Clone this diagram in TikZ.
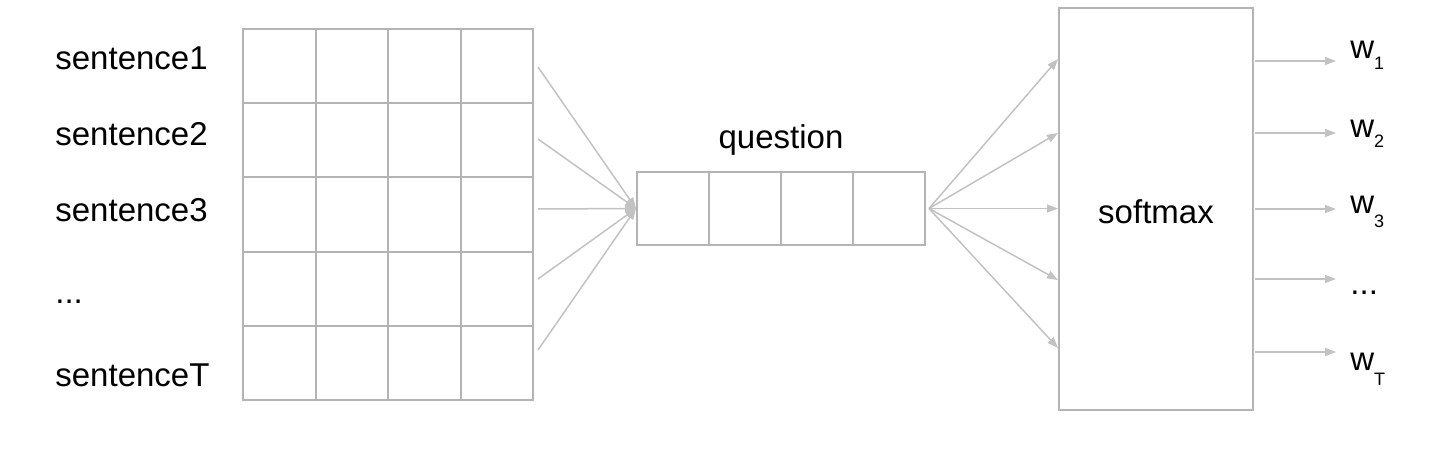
\documentclass[tikz,border=0pt]{standalone}
\usepackage{fontspec}
\setmainfont{Liberation Sans}
\usetikzlibrary{arrows.meta}
\definecolor{boxgray}{HTML}{B4B4B4}
\definecolor{arrgray}{HTML}{C2C2C2}
\begin{document}
\begin{tikzpicture}[x=0.5pt,y=-0.5pt,
  every node/.style={font=\fontsize{16.5}{20}\selectfont},
  boxshape/.style={draw=boxgray,line width=1pt,rectangle,inner sep=0pt},
  conn/.style={draw=arrgray,line width=0.75pt,-{Triangle[length=5.5pt,width=4pt]}},
  lbl/.style={anchor=base west,inner sep=0pt},
  sub/.style={}]
\useasboundingbox (0,0) rectangle (1453,450);
% sentence labels
\node[lbl] (l1) at (55,69) {sentence1};
\node[lbl] (l2) at (55,145) {sentence2};
\node[lbl] (l3) at (55,221) {sentence3};
\node[lbl] (l4) at (55,303) {...};
\node[lbl] (l5) at (55,386) {sentenceT};
% memory grid
\node[boxshape,minimum width=145pt,minimum height=185.5pt] (mem) at (388,214.5) {};
\foreach \xx in {315.5,388,460.5} \draw[boxgray,line width=1pt] (\xx,29) -- (\xx,400);
\foreach \yy in {103.2,177.4,251.6,325.8} \draw[boxgray,line width=1pt] (243,\yy) -- (533,\yy);
% question
\node[boxshape,minimum width=144pt,minimum height=36.5pt] (q) at (781,208.5) {};
\foreach \xx in {709,781,853} \draw[boxgray,line width=1pt] (\xx,172) -- (\xx,245);
\node (qlbl) at (781,140) {question};
% softmax
\node[boxshape,minimum width=97pt,minimum height=201pt] (sm) at (1156,209) {};
\node (smlbl) at (1156,212) {softmax};
% arrows into question
\foreach \i/\yy in {1/67,2/139,3/209,4/279,5/350} {
  \coordinate (s\i) at (538,\yy);
  \draw[conn] (s\i) -- (q.west);
}
% arrows question -> softmax
\coordinate (qo) at (929,208.5);
\foreach \i/\yy in {1/59,2/133,3/208.5,4/280,5/348} {
  \coordinate (t\i) at (sm.west |- 0,\yy);
  \draw[conn] (qo) -- (t\i);
}
% output arrows and labels
\foreach \i/\yy in {1/61,2/133,3/209,4/279,5/352} {
  \coordinate (o\i) at (1255,\yy);
  \coordinate (p\i) at (1336,\yy);
  \draw[conn] (o\i) -- (p\i);
}
\node[lbl] (w1) at (1350,58) {w\raisebox{-5.5pt}{\fontsize{9}{10}\selectfont 1}};
\node[lbl] (w2) at (1350,137) {w\raisebox{-5pt}{\fontsize{9}{10}\selectfont 2}};
\node[lbl] (w3) at (1350,213) {w\raisebox{-7pt}{\fontsize{9}{10}\selectfont 3}};
\node[lbl] (w4) at (1350,294) {...};
\node[lbl] (w5) at (1350,370) {w\raisebox{-7.5pt}{\fontsize{9}{10}\selectfont T}};
\end{tikzpicture}
\end{document}
